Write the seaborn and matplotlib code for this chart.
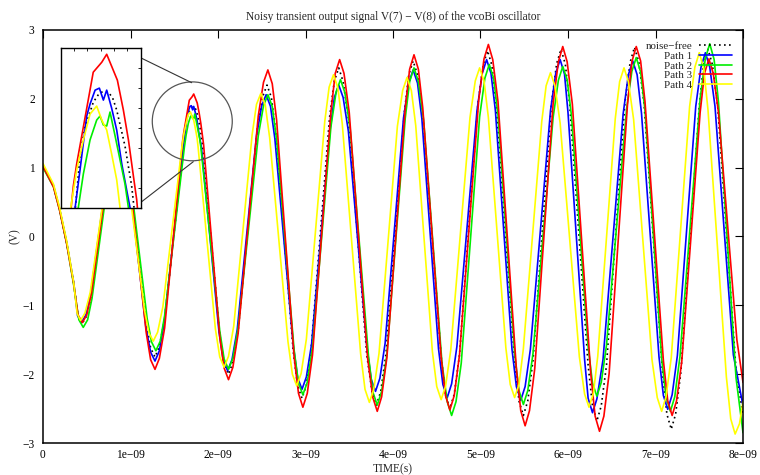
import matplotlib
matplotlib.use("Agg")
import matplotlib.pyplot as plt
import seaborn as sns
import numpy as np
from matplotlib.patches import Ellipse

# ---------------- text ----------------
title = "Noisy transient output signal V(7) \u2212 V(8) of the vcoBi oscillator"
x_label = "TIME(s)"
y_label = "(V)"
x_ticks_ns = [0, 1, 2, 3, 4, 5, 6, 7, 8]
x_tick_labels = ["0", "1e\u221209", "2e\u221209", "3e\u221209", "4e\u221209",
                 "5e\u221209", "6e\u221209", "7e\u221209", "8e\u221209"]
y_ticks = [-3, -2, -1, 0, 1, 2, 3]
y_tick_labels = ["\u22123", "\u22122", "\u22121", "0", "1", "2", "3"]
series_names = ["noise\u2212free", "Path 1", "Path 2", "Path 3", "Path 4"]

# ---------------- data (time in ns, voltage in V) ----------------
t_noise_free = [0, 0.12, 0.19, 0.27, 0.35, 0.40, 0.45, 0.50, 0.555, 0.765, 0.87, 0.97, 1.18, 1.23,
                1.28, 1.33, 1.39,
                1.605, 1.622, 1.64, 1.6725, 1.69, 1.704, 1.729, 1.745, 1.76, 1.791, 1.816, 1.825,
                2.02, 2.07, 2.12, 2.17, 2.23, 2.45, 2.51, 2.56, 2.61, 2.66, 2.86, 2.91, 2.96, 3.01,
                3.065, 3.275, 3.33, 3.38, 3.43, 3.49, 3.70, 3.76, 3.81, 3.86, 3.92, 4.13, 4.18,
                4.23, 4.28, 4.34, 4.55, 4.60, 4.65, 4.70, 4.76, 4.97, 5.03, 5.08, 5.13, 5.18, 5.39,
                5.44, 5.49, 5.54, 5.60, 5.81, 5.87, 5.92, 5.97, 6.02, 6.23, 6.28, 6.33, 6.38, 6.44,
                6.65, 6.71, 6.76, 6.81, 6.87, 7.08, 7.13, 7.18, 7.23, 7.29, 7.50, 7.55, 7.60, 7.65,
                7.71, 7.92, 8.0]
v_noise_free = [1.03, 0.73, 0.39, -0.09, -0.67, -1.15, -1.26, -1.15, -0.84, 1.13, 1.55, 1.06, -1.26,
                -1.62, -1.75, -1.60, -1.20,
                1.30, 1.55, 1.70, 1.83, 1.865, 1.88, 1.88, 1.85, 1.79, 1.61, 1.41, 1.30,
                -1.42, -1.84, -2.00, -1.83, -1.37, 1.57, 2.03, 2.20, 2.02, 1.52, -1.67, -2.17, -2.35,
                -2.16, -1.63, 1.73, 2.26, 2.45, 2.25, 1.72, -1.72, -2.25, -2.45, -2.25, -1.70, 1.80,
                2.35, 2.55, 2.35, 1.79, -1.74, -2.30, -2.50, -2.29, -1.72, 1.92, 2.49, 2.70, 2.49,
                1.90, -1.80, -2.39, -2.60, -2.39, -1.80, 1.92, 2.51, 2.72, 2.50, 1.91, -1.87, -2.46,
                -2.68, -2.46, -1.87, 1.94, 2.53, 2.75, 2.53, 1.92, -1.97, -2.58, -2.80, -2.58, -1.97,
                1.89, 2.50, 2.72, 2.50, 1.90, -1.93, -2.60]

t_path1 = [0, 0.12, 0.19, 0.27, 0.35, 0.395, 0.44, 0.49, 0.545, 0.755, 0.86, 0.965, 1.175, 1.23,
           1.28, 1.33, 1.385,
           1.604, 1.6225, 1.6475, 1.66, 1.679, 1.695, 1.71, 1.7225, 1.741, 1.76, 1.779, 1.80, 1.81,
           2.01, 2.06, 2.11, 2.16, 2.22, 2.44, 2.50, 2.55, 2.60, 2.65, 2.86, 2.91, 2.96, 3.01,
           3.07, 3.28, 3.33, 3.38, 3.43, 3.49, 3.70, 3.75, 3.80, 3.85, 3.91, 4.12, 4.18, 4.23,
           4.28, 4.33, 4.52, 4.57, 4.62, 4.67, 4.73, 4.96, 5.02, 5.07, 5.12, 5.17, 5.36, 5.41,
           5.46, 5.51, 5.57, 5.80, 5.86, 5.91, 5.96, 6.00, 6.19, 6.23, 6.28, 6.33, 6.40, 6.63,
           6.69, 6.74, 6.79, 6.84, 7.04, 7.09, 7.14, 7.19, 7.25, 7.46, 7.52, 7.57, 7.62, 7.68,
           7.89, 8.0]
v_path1 = [1.03, 0.74, 0.40, -0.08, -0.66, -1.15, -1.25, -1.14, -0.83, 1.13, 1.55, 1.05, -1.31,
           -1.68, -1.81, -1.66, -1.25,
           1.30, 1.49, 1.76, 1.82, 1.89, 1.90, 1.84, 1.89, 1.80, 1.69, 1.52, 1.37, 1.30,
           -1.37, -1.80, -1.95, -1.79, -1.35, 1.46, 1.90, 2.06, 1.89, 1.42, -1.58, -2.05, -2.22,
           -2.04, -1.56, 1.54, 2.02, 2.20, 2.02, 1.53, -1.58, -2.07, -2.25, -2.06, -1.55, 1.72,
           2.23, 2.42, 2.23, 1.71, -1.63, -2.15, -2.34, -2.14, -1.60, 1.83, 2.37, 2.57, 2.37,
           1.83, -1.64, -2.18, -2.38, -2.18, -1.64, 1.83, 2.37, 2.57, 2.36, 1.80, -1.79, -2.35,
           -2.56, -2.36, -1.79, 1.78, 2.35, 2.55, 2.35, 1.79, -1.75, -2.31, -2.51, -2.30, -1.73,
           1.89, 2.46, 2.67, 2.46, 1.89, -1.72, -2.46]

t_path2 = [0, 0.12, 0.19, 0.27, 0.35, 0.41, 0.46, 0.51, 0.56, 0.77, 0.87, 0.98, 1.19, 1.24,
           1.29, 1.34, 1.39,
           1.616, 1.635, 1.66, 1.685, 1.6975, 1.71, 1.7225, 1.735, 1.754, 1.7725, 1.791, 1.804,
           2.02, 2.07, 2.12, 2.17, 2.23, 2.46, 2.52, 2.57, 2.62, 2.67, 2.87, 2.92, 2.97, 3.02,
           3.08, 3.29, 3.35, 3.40, 3.45, 3.51, 3.72, 3.77, 3.82, 3.87, 3.93, 4.14, 4.19, 4.24,
           4.29, 4.35, 4.56, 4.62, 4.67, 4.72, 4.78, 4.99, 5.05, 5.10, 5.15, 5.20, 5.39, 5.44,
           5.49, 5.54, 5.60, 5.83, 5.89, 5.94, 5.99, 6.04, 6.23, 6.28, 6.33, 6.38, 6.44, 6.67,
           6.73, 6.78, 6.83, 6.88, 7.07, 7.12, 7.17, 7.22, 7.28, 7.51, 7.57, 7.62, 7.67, 7.72,
           7.92, 8.0]
v_path2 = [1.00, 0.72, 0.38, -0.10, -0.70, -1.21, -1.32, -1.21, -0.90, 1.08, 1.50, 1.03, -1.19,
           -1.53, -1.66, -1.52, -1.15,
           1.30, 1.47, 1.64, 1.74, 1.76, 1.715, 1.71, 1.78, 1.66, 1.54, 1.42, 1.30,
           -1.37, -1.78, -1.93, -1.77, -1.33, 1.46, 1.90, 2.06, 1.89, 1.41, -1.65, -2.13, -2.30,
           -2.12, -1.61, 1.59, 2.10, 2.28, 2.09, 1.57, -1.74, -2.26, -2.45, -2.25, -1.72, 1.72,
           2.25, 2.45, 2.25, 1.69, -1.84, -2.40, -2.60, -2.40, -1.84, 1.74, 2.30, 2.50, 2.30,
           1.76, -1.70, -2.24, -2.44, -2.24, -1.70, 1.73, 2.27, 2.47, 2.28, 1.75, -1.60, -2.13,
           -2.32, -2.12, -1.58, 1.86, 2.40, 2.60, 2.39, 1.83, -1.77, -2.33, -2.54, -2.33, -1.74,
           2.00, 2.59, 2.80, 2.57, 1.95, -2.05, -2.85]

t_path3 = [0, 0.12, 0.19, 0.27, 0.35, 0.40, 0.45, 0.50, 0.555, 0.765, 0.87, 0.97, 1.18, 1.23,
           1.28, 1.33, 1.39,
           1.5975, 1.61, 1.641, 1.672, 1.704, 1.7225, 1.741, 1.7625, 1.785, 1.804, 1.8225, 1.835,
           2.02, 2.07, 2.12, 2.17, 2.23, 2.46, 2.52, 2.57, 2.62, 2.67, 2.87, 2.92, 2.97, 3.02,
           3.08, 3.29, 3.34, 3.39, 3.44, 3.50, 3.71, 3.77, 3.82, 3.87, 3.93, 4.14, 4.19, 4.24,
           4.29, 4.34, 4.55, 4.60, 4.65, 4.70, 4.76, 4.98, 5.04, 5.09, 5.14, 5.20, 5.41, 5.46,
           5.51, 5.56, 5.62, 5.83, 5.89, 5.94, 5.99, 6.05, 6.26, 6.31, 6.36, 6.41, 6.47, 6.68,
           6.73, 6.78, 6.83, 6.88, 7.09, 7.14, 7.19, 7.24, 7.30, 7.51, 7.56, 7.61, 7.66, 7.72,
           7.93, 8.0]
v_path3 = [1.02, 0.72, 0.38, -0.10, -0.68, -1.14, -1.25, -1.14, -0.82, 1.17, 1.60, 1.07, -1.40,
           -1.79, -1.93, -1.77, -1.33,
           1.41, 1.52, 1.75, 1.98, 2.03, 2.07, 2.01, 1.94, 1.79, 1.64, 1.46, 1.34,
           -1.46, -1.91, -2.08, -1.90, -1.41, 1.75, 2.24, 2.42, 2.22, 1.69, -1.75, -2.28, -2.48,
           -2.28, -1.72, 1.81, 2.37, 2.57, 2.37, 1.80, -1.77, -2.34, -2.54, -2.33, -1.76, 1.86,
           2.43, 2.64, 2.43, 1.87, -1.75, -2.31, -2.52, -2.31, -1.72, 1.99, 2.58, 2.79, 2.57,
           1.96, -1.92, -2.53, -2.75, -2.53, -1.92, 1.93, 2.54, 2.76, 2.54, 1.92, -1.99, -2.61,
           -2.83, -2.61, -1.99, 1.92, 2.54, 2.76, 2.55, 1.96, -1.80, -2.39, -2.60, -2.39, -1.82,
           1.80, 2.37, 2.58, 2.37, 1.80, -1.50, -2.12]

t_path4 = [0, 0.12, 0.19, 0.27, 0.35, 0.39, 0.43, 0.48, 0.54, 0.75, 0.85, 0.95, 1.16, 1.21,
           1.26, 1.31, 1.37,
           1.5875, 1.61, 1.635, 1.66, 1.685, 1.704, 1.7225, 1.741, 1.76, 1.7725,
           1.97, 2.02, 2.07, 2.12, 2.18, 2.39, 2.44, 2.49, 2.54, 2.59, 2.80, 2.85, 2.90, 2.95,
           3.01, 3.22, 3.27, 3.32, 3.37, 3.42, 3.63, 3.68, 3.73, 3.78, 3.84, 4.05, 4.11, 4.16,
           4.21, 4.26, 4.45, 4.50, 4.55, 4.60, 4.66, 4.88, 4.94, 4.99, 5.04, 5.09, 5.29, 5.34,
           5.39, 5.44, 5.49, 5.70, 5.75, 5.80, 5.85, 5.91, 6.13, 6.19, 6.24, 6.29, 6.34, 6.54,
           6.59, 6.64, 6.69, 6.75, 6.96, 7.02, 7.07, 7.12, 7.18, 7.39, 7.45, 7.50, 7.55, 7.60,
           7.81, 7.86, 7.91, 7.96, 8.0]
v_path4 = [1.06, 0.76, 0.42, -0.06, -0.66, -1.12, -1.22, -1.11, -0.81, 1.09, 1.50, 1.05, -1.07,
           -1.40, -1.52, -1.39, -1.02,
           1.30, 1.49, 1.64, 1.77, 1.81, 1.74, 1.69, 1.57, 1.44, 1.30,
           -1.34, -1.75, -1.90, -1.74, -1.30, 1.48, 1.92, 2.08, 1.91, 1.44, -1.53, -2.00, -2.17,
           -1.99, -1.49, 1.67, 2.17, 2.35, 2.16, 1.64, -1.70, -2.22, -2.41, -2.22, -1.70, 1.60,
           2.12, 2.31, 2.12, 1.61, -1.67, -2.18, -2.37, -2.18, -1.65, 1.73, 2.26, 2.45, 2.26,
           1.73, -1.62, -2.15, -2.34, -2.15, -1.63, 1.67, 2.19, 2.38, 2.19, 1.65, -1.75, -2.29,
           -2.48, -2.28, -1.74, 1.71, 2.25, 2.45, 2.25, 1.70, -1.79, -2.34, -2.54, -2.33, -1.76,
           1.89, 2.46, 2.67, 2.45, 1.84, -2.04, -2.65, -2.87, -2.72, -2.40]

# zoom window shown in the inset (ns, V)
inset_x_ticks_ns = [1.55, 1.60, 1.65, 1.70, 1.75, 1.80, 1.85]
inset_y_ticks = [1.3, 1.4, 1.5, 1.6, 1.7, 1.8, 1.9, 2.0, 2.1]

series_t = [t_noise_free, t_path1, t_path2, t_path3, t_path4]
series_v = [v_noise_free, v_path1, v_path2, v_path3, v_path4]
for _n, _t, _v in zip(series_names, series_t, series_v):
    assert len(_t) == len(_v), f"{_n}: {len(_t)} times vs {len(_v)} values"

# ---------------- style ----------------
sns.set_style("white")
plt.rcParams['font.family'] = ['Liberation Serif', 'DejaVu Serif']
plt.rcParams['axes.unicode_minus'] = True
FS = 8.3
LEG_FS = 7.9

colors = ["black", "#0000ff", "#00ee00", "#ff0000", "#ffff00"]
styles = [(0, (1.0, 2.0)), "-", "-", "-", "-"]

fig = plt.figure(figsize=(7.6, 4.75), dpi=100)
ax = fig.add_axes([43 / 760, 1 - 443 / 475, 700 / 760, 413 / 475])


def draw(axis, with_label):
    for name, tt, vv, c, ls in zip(series_names, series_t, series_v, colors, styles):
        sns.lineplot(x=np.asarray(tt) * 1e-9, y=np.asarray(vv), ax=axis, color=c,
                     linestyle=ls, linewidth=1.2, estimator=None,
                     label=name if with_label else None, legend=False)


draw(ax, True)
ax.set_xlim(0, 8e-9)
ax.set_ylim(-3, 3)
ax.set_xticks(np.asarray(x_ticks_ns) * 1e-9)
ax.set_xticklabels(x_tick_labels, fontsize=FS)
ax.set_yticks(y_ticks)
ax.set_yticklabels(y_tick_labels, fontsize=FS)
ax.tick_params(direction="in", length=5.8, width=0.8, top=True, right=True,
               pad=4, colors="black")
ax.tick_params(axis="y", pad=6)
for s in ax.spines.values():
    s.set_linewidth(1.1)
    s.set_color("black")
ax.set_xlabel(x_label, fontsize=FS, labelpad=2)
ax.set_ylabel(y_label, fontsize=FS, labelpad=1)
ax.set_title(title, fontsize=FS, pad=7)

handles, labels = ax.get_legend_handles_labels()
leg = ax.legend(handles, labels, loc="upper right", bbox_to_anchor=(0.984, 0.972),
                markerfirst=False, frameon=False, fontsize=LEG_FS, handlelength=3.0,
                handletextpad=0.6, labelspacing=0.0, borderpad=0, borderaxespad=0)
for txt in leg.get_texts():
    txt.set_ha("right")

# zoom marker on main plot
circ = Ellipse((1.706e-9, 1.673), width=2 * 0.457e-9, height=2 * 0.573, fill=False,
               edgecolor="#555555", linewidth=0.9, zorder=5)
ax.add_patch(circ)
ax.plot([0.1410, 0.2124], [0.9315, 0.8724], transform=ax.transAxes, color="#333333",
        linewidth=0.8, zorder=5)
ax.plot([0.1410, 0.2147], [0.5843, 0.6811], transform=ax.transAxes, color="#333333",
        linewidth=0.8, zorder=5)

# inset
ins = fig.add_axes([60.7 / 760, 1 - 207.7 / 475, 80 / 760, 159.4 / 475])
ins.set_facecolor("white")
draw(ins, False)
ins.set_xlim(inset_x_ticks_ns[0] * 1e-9, inset_x_ticks_ns[-1] * 1e-9)
ins.set_ylim(inset_y_ticks[0], inset_y_ticks[-1])
ins.set_xticks(np.asarray(inset_x_ticks_ns) * 1e-9)
ins.set_yticks(inset_y_ticks)
ins.tick_params(direction="in", length=2.5, width=0.7, top=True, right=True,
                labelbottom=False, labelleft=False)
ins.set_xlabel("")
ins.set_ylabel("")
for s in ins.spines.values():
    s.set_linewidth(1.0)
    s.set_color("black")

fig.savefig("out.png", dpi=100)
